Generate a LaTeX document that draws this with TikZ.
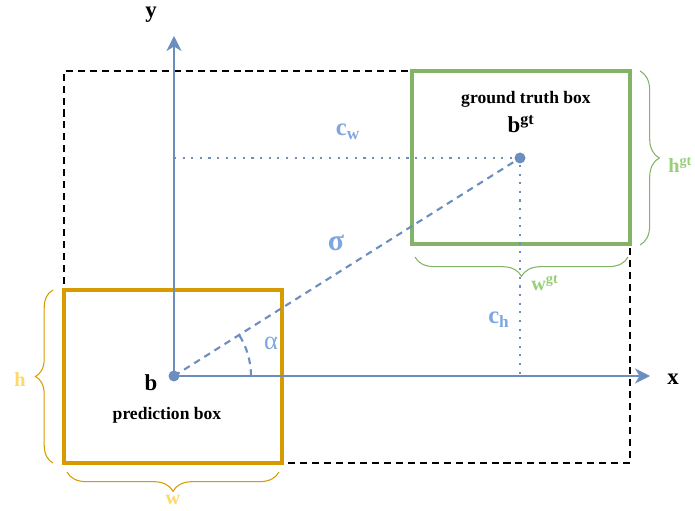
\documentclass[tikz,border=0pt]{standalone}
\usepackage{fontspec}
\setmainfont{Liberation Serif}
\usetikzlibrary{arrows.meta,decorations.pathreplacing,angles}
\definecolor{axisblue}{HTML}{6C8EBF}
\definecolor{lblblue}{HTML}{7EA6E0}
\definecolor{gtgreen}{HTML}{82B366}
\definecolor{gtlbl}{HTML}{97D077}
\definecolor{predorange}{HTML}{D79B00}
\definecolor{predlbl}{HTML}{FFD966}

\begin{document}
\begin{tikzpicture}[x=0.02cm,y=0.02cm,>={Stealth[length=3mm,width=3mm,inset=0.9mm]},line cap=butt,
  dot/.style={circle,fill=axisblue,inner sep=0pt,minimum size=0.22cm},
  lbl/.style={inner sep=0pt,font=\fontsize{13}{15}\selectfont\bfseries},
  bluelbl/.style={lbl,text=lblblue,font=\fontsize{14}{16}\selectfont\bfseries},
  sidelbl/.style={lbl,font=\fontsize{11.5}{13}\selectfont\bfseries},
  boxtxt/.style={inner sep=0pt,font=\fontsize{10}{12}\selectfont\bfseries},
  brc/.style={line width=0.6pt,decorate,decoration={brace,amplitude=11pt}}]
\useasboundingbox (0,0) rectangle (695,510);
% boxes
\draw[line width=1.2pt,dash pattern=on 4pt off 2.8pt] (64,47) rectangle (630,439);
\draw[gtgreen,line width=2.2pt] (412,266) rectangle (630,439);
\draw[predorange,line width=2.2pt] (64,47) rectangle (282,220);
% centres and axes
\node[dot] (b) at (174,134) {};
\node[dot] (bgt) at (520,352) {};
\coordinate (yend) at (174,474);
\coordinate (xend) at (650,134);
\coordinate (cwend) at (174,352);
\coordinate (chend) at (520,134);
\draw[axisblue,line width=1.2pt,->] (b.center) -- (yend);
\draw[axisblue,line width=1.2pt,->] (b.center) -- (xend);
\draw[axisblue,line width=1.3pt,dash pattern=on 1.2pt off 3.7pt] (cwend) -- (bgt.center) -- (chend);
\draw[axisblue,line width=1.2pt,dash pattern=on 3.8pt off 3pt] (b.center) -- (bgt.center);
\pic[draw=axisblue,line width=1.2pt,dash pattern=on 3.8pt off 3pt,angle radius=1.54cm] {angle=xend--b--bgt};
% braces
\draw[predorange,brc,decoration={amplitude=10pt}] (53,47) -- (53,220);
\draw[predorange,brc] (279,38) -- (67,38);
\draw[gtgreen,brc] (628,253) -- (415,253);
\draw[gtgreen,brc] (640,439) -- (640,265);
% labels
\node[lbl] (ylabel) at (151,495) {y};
\node[lbl] (xlabel) at (673,131) {x};
\node[lbl] (bname) at (151,127) {b};
\node[lbl] (gtname) at (521,386) {b\textsuperscript{gt}};
\node[boxtxt] (predtext) at (167,95) {prediction box};
\node[boxtxt] (gttext) at (526,411) {ground truth box};
\node[bluelbl] (cwlabel) at (348,378) {c\textsubscript{w}};
\node[bluelbl] (chlabel) at (499,190) {c\textsubscript{h}};
\node[bluelbl,font=\fontsize{17}{19}\selectfont\bfseries] (sigmalabel) at (336,267) {σ};
\node[bluelbl,font=\fontsize{15}{17}\selectfont] (alphalabel) at (271,167) {α};
\node[sidelbl,text=predlbl] (hlabel) at (20,131) {h};
\node[sidelbl,text=predlbl] (wlabel) at (173,10) {w};
\node[sidelbl,text=gtlbl] (wgtlabel) at (545,227) {w\textsuperscript{gt}};
\node[sidelbl,text=gtlbl,anchor=west] (hgtlabel) at (668,345) {h\textsuperscript{gt}};
\end{tikzpicture}
\end{document}
